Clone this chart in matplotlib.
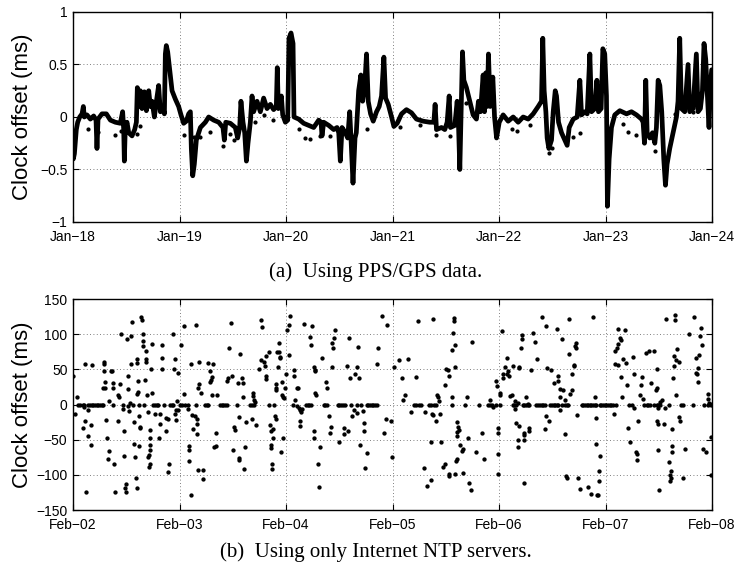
import matplotlib
matplotlib.use("Agg")
import matplotlib.pyplot as plt
import numpy as np

# ---------------- Panel (a): PPS/GPS offset trace (days since Jan-18, ms) ----------------
a_days = [0.000, 0.003, 0.013, 0.031, 0.044, 0.063, 0.085, 0.097, 0.106, 0.131, 0.163, 0.194,
          0.216, 0.225, 0.235, 0.272, 0.313, 0.351, 0.398, 0.444, 0.466, 0.476, 0.482, 0.491,
          0.507, 0.523, 0.554, 0.579, 0.595, 0.604, 0.613, 0.632, 0.648, 0.670, 0.689, 0.711,
          0.726, 0.742, 0.764, 0.783, 0.804, 0.820, 0.842, 0.858, 0.867, 0.876, 0.889, 0.908,
          0.930, 0.961, 0.992, 1.014, 1.039, 1.064, 1.086, 1.102, 1.111, 1.124, 1.139, 1.158,
          1.196, 1.243, 1.274, 1.321, 1.368, 1.408, 1.421, 1.434, 1.477, 1.524, 1.546, 1.565,
          1.577, 1.596, 1.612, 1.628, 1.643, 1.665, 1.681, 1.696, 1.728, 1.759, 1.790, 1.822,
          1.853, 1.884, 1.909, 1.918, 1.928, 1.956, 1.969, 1.994, 2.016, 2.028, 2.047, 2.066,
          2.075, 2.119, 2.166, 2.213, 2.260, 2.307, 2.329, 2.338, 2.354, 2.401, 2.448, 2.479,
          2.495, 2.510, 2.526, 2.557, 2.579, 2.598, 2.610, 2.629, 2.648, 2.660, 2.682,
          2.703, 2.719, 2.738, 2.756, 2.772, 2.794, 2.819, 2.850, 2.875, 2.897, 2.919, 2.935,
          2.960, 2.991, 3.013, 3.044, 3.085, 3.131, 3.178, 3.225, 3.288, 3.350, 3.388, 3.400,
          3.413, 3.460, 3.491, 3.513, 3.532, 3.544, 3.585, 3.607, 3.619, 3.632, 3.644, 3.657,
          3.670, 3.694, 3.726, 3.757, 3.788, 3.807, 3.826, 3.851, 3.864, 3.876, 3.889, 3.901,
          3.917, 3.942, 3.958, 3.977, 4.002, 4.039, 4.086, 4.133, 4.180, 4.227, 4.274, 4.321,
          4.368, 4.399, 4.411, 4.424, 4.440, 4.452, 4.468, 4.493, 4.509, 4.528, 4.540, 4.559,
          4.587, 4.618, 4.640, 4.659, 4.697, 4.734, 4.759, 4.775, 4.806, 4.828, 4.853, 4.869,
          4.900, 4.919, 4.934, 4.959, 4.975, 4.993, 5.009, 5.018, 5.034, 5.056, 5.087, 5.134,
          5.197, 5.244, 5.291, 5.338, 5.353, 5.366, 5.378, 5.391, 5.416, 5.441, 5.463, 5.478,
          5.494, 5.510, 5.528, 5.547, 5.563, 5.578, 5.603, 5.635, 5.666, 5.681, 5.697, 5.713,
          5.744, 5.775, 5.791, 5.822, 5.853, 5.869, 5.891, 5.910, 5.925, 5.941, 5.957, 5.972,
          5.985, 5.997]
a_offset = [-0.30, -0.40, -0.35, -0.12, -0.05, 0.00, 0.03, 0.10, 0.00, 0.02, -0.02, 0.01,
            -0.03, -0.30, -0.02, 0.03, 0.03, -0.03, -0.05, -0.06, 0.05, -0.12, -0.42, -0.10,
            -0.05, -0.15, -0.18, -0.12, -0.05, 0.28, 0.10, 0.25, 0.08, 0.24, 0.06, 0.25,
            0.10, 0.15, 0.00, 0.15, 0.30, 0.05, 0.10, 0.03, 0.60, 0.68, 0.62, 0.45,
            0.25, 0.17, 0.10, 0.02, -0.06, -0.04, 0.03, 0.05, -0.30, -0.56, -0.45, -0.22,
            -0.10, -0.05, 0.00, -0.03, -0.05, -0.10, -0.22, -0.05, -0.06, -0.10, -0.20, -0.10,
            0.15, -0.05, -0.15, -0.42, -0.25, -0.05, 0.20, 0.05, 0.15, 0.05, 0.18, 0.08,
            0.12, 0.07, 0.10, 0.47, 0.08, 0.20, 0.02, -0.05, -0.03, 0.75, 0.80, 0.70,
            0.00, -0.02, -0.06, -0.08, -0.10, -0.03, -0.05, -0.18, -0.05, -0.08, -0.12, -0.10,
            -0.15, -0.42, -0.10, -0.15, -0.20, 0.05, -0.20, -0.63, -0.20, -0.15, 0.25,
            0.40, 0.15, 0.28, 0.60, 0.15, 0.03, -0.04, 0.05, 0.10, 0.20, 0.57, 0.18,
            0.12, 0.00, -0.09, -0.06, 0.03, 0.07, 0.04, -0.02, -0.04, -0.05, -0.05, 0.12,
            -0.12, -0.10, -0.12, -0.05, 0.20, -0.10, -0.08, 0.15, -0.05, -0.50, 0.05, 0.62,
            0.35, 0.28, 0.15, 0.02, -0.02, 0.15, 0.05, 0.40, 0.05, 0.42, 0.10, 0.60,
            0.10, 0.38, 0.00, -0.20, -0.05, 0.02, -0.04, 0.00, -0.05, 0.00, -0.02, 0.03,
            0.10, 0.15, 0.75, 0.25, 0.05, -0.20, -0.30, -0.22, 0.05, 0.25, 0.20, -0.05,
            -0.15, -0.22, -0.27, -0.10, -0.02, 0.00, 0.35, 0.02, 0.05, 0.03, 0.60, 0.05,
            0.08, 0.35, 0.05, 0.08, 0.65, 0.60, 0.20, -0.85, -0.40, -0.10, 0.02, 0.06,
            0.03, 0.05, 0.02, -0.02, -0.05, -0.25, 0.35, -0.15, -0.20, -0.15, -0.25, -0.10,
            0.35, 0.30, 0.05, -0.40, -0.65, -0.45, -0.30, -0.15, 0.00, 0.15, 0.75, 0.08,
            0.05, 0.50, 0.05, 0.08, 0.60, 0.05, 0.08, 0.25, 0.70, 0.55, 0.20, -0.10,
            0.30, 0.45]

# scattered samples below the main trace
a_out_days = [0.138, 0.232, 0.398, 0.451, 0.632, 0.601, 1.039, 1.133, 1.196, 1.290, 1.408,
              1.477, 1.509, 1.712, 1.790, 1.878, 2.119, 2.175, 2.229, 2.322, 2.416, 2.541,
              2.757, 3.069, 3.257, 3.413, 3.539, 3.694, 4.118, 4.165, 4.289, 4.470, 4.493,
              4.697, 4.759, 5.166, 5.213, 5.291, 5.463, 5.651, 5.822]
a_out_offset = [-0.11, -0.14, -0.17, -0.13, -0.09, -0.16, -0.17, -0.19, -0.19, -0.14, -0.28,
                -0.16, -0.22, -0.05, 0.02, -0.03, -0.11, -0.20, -0.21, -0.18, -0.18, -0.14,
                -0.11, -0.10, -0.08, -0.17, -0.18, 0.13, -0.11, -0.13, -0.08, -0.34, -0.30,
                -0.19, -0.15, -0.07, -0.14, -0.17, -0.32, 0.03, 0.05]

a_ticklabels = ["Jan\u221218", "Jan\u221219", "Jan\u221220", "Jan\u221221",
                "Jan\u221222", "Jan\u221223", "Jan\u221224"]
a_yticks = [-1, -0.5, 0, 0.5, 1]
a_yticklabels = ["\u22121", "\u22120.5", "0", "0.5", "1"]

# ---------------- Panel (b): Internet NTP offsets (days since Feb-02, ms) ----------------
b_day1 = [(0.000, 40), (0.638, 125), (0.651, 120), (0.557, 118), (0.447, 100), (0.544, 97),
          (0.507, 93), (0.654, 100), (0.654, 91), (0.660, 83), (0.738, 86), (0.835, 84),
          (0.685, 76), (0.942, 100), (1.017, 85), (1.045, 111), (1.151, 113), (1.483, 116),
          (1.467, 80), (0.110, 58), (0.178, 56), (0.288, 60), (0.291, 58), (0.294, 48),
          (0.363, 48), (0.357, 47), (0.541, 58), (0.604, 64), (0.604, 59), (0.688, 65),
          (0.685, 61), (0.835, 66), (0.954, 65), (0.732, 51), (0.839, 50), (0.945, 50),
          (0.989, 45), (1.111, 57), (1.183, 61), (1.270, 59), (1.311, 58), (1.283, 47),
          (1.308, 39), (1.295, 35), (1.286, 32), (1.455, 38), (1.449, 34), (1.492, 40),
          (0.516, 41), (0.297, 32), (0.372, 31), (0.297, 24), (0.278, 23), (0.372, 23),
          (0.444, 29), (0.676, 35), (0.607, 33), (0.513, 22), (0.613, 18), (0.604, 15),
          (0.738, 17), (0.698, 13), (0.419, 13), (0.435, 10), (1.183, 29), (1.176, 23),
          (1.205, 16), (1.305, 14), (1.352, 13), (1.039, 15), (0.041, 11), (0.341, 5),
          (0.532, 2), (0.519, -2), (0.976, 5),
          (0.022, -14), (0.100, -3), (0.138, -8), (0.472, -7), (0.523, -9), (0.623, -16),
          (0.701, -11), (0.767, -14), (0.817, -14), (0.876, -19), (0.892, -21), (0.964, -8),
          (0.957, -13), (0.989, -8), (0.967, -22), (1.083, -7), (1.117, -15), (1.145, -17),
          (1.161, -21), (1.164, -28), (1.167, -42), (1.126, -35), (1.511, -32), (1.524, -36),
          (0.113, -23), (0.169, -29), (0.091, -34), (0.310, -22), (0.419, -23), (0.569, -25),
          (0.626, -32), (0.629, -34), (0.482, -37), (0.726, -36), (0.870, -38), (0.817, -27),
          (0.144, -45), (0.166, -58), (0.319, -48), (0.576, -56), (0.623, -59), (0.723, -47),
          (0.807, -48), (0.720, -58), (0.720, -64), (0.713, -72), (0.707, -74), (0.720, -84),
          (0.713, -89), (0.338, -66), (0.325, -77), (0.482, -73), (0.582, -75), (0.388, -84),
          (0.898, -84), (0.889, -96), (1.086, -59), (1.092, -65), (1.089, -80), (1.173, -93),
          (1.217, -93), (1.223, -106), (1.339, -59), (1.327, -60), (1.502, -65), (1.342, -41),
          (0.125, -125), (0.394, -125), (0.494, -124), (0.497, -113), (0.491, -118),
          (0.588, -105), (0.601, -119), (1.108, -128)]
b_day2 = [(1.768, 120), (1.774, 110), (2.040, 126), (2.031, 113), (2.006, 106), (2.165, 114),
          (2.247, 111), (2.221, 96), (2.237, 85), (2.463, 106), (2.453, 95), (2.431, 88),
          (2.441, 81), (2.594, 94), (2.678, 82), (2.901, 126), (2.944, 113), (2.863, 80),
          (1.937, 88), (1.915, 75), (1.937, 74), (1.943, 68), (1.946, 66), (1.840, 75),
          (1.815, 69), (1.762, 63), (1.793, 61), (1.799, 55), (1.746, 50), (1.571, 72),
          (1.921, 53), (2.024, 70), (2.003, 43), (2.071, 49), (2.074, 41), (2.340, 66),
          (2.265, 54), (2.275, 49), (2.275, 47), (2.431, 53), (2.572, 55), (2.663, 53),
          (2.647, 43), (2.603, 37), (2.685, 37), (2.857, 58), (3.010, 53), (1.809, 41),
          (1.812, 36), (1.906, 29), (1.909, 23), (1.902, 20), (1.965, 32), (1.990, 24),
          (1.583, 37), (1.545, 30), (1.596, 30), (2.100, 23), (2.109, 23), (2.375, 32),
          (2.384, 24), (2.275, 17), (2.284, 13), (1.686, 16), (1.693, 12), (1.696, 7),
          (1.708, 4), (1.599, 10), (1.962, 13), (1.974, 11), (1.984, 9), (2.087, 6),
          (2.100, -2), (2.118, -5), (2.134, -8), (2.143, -11), (2.153, -6), (2.406, -16),
          (2.616, -16), (2.641, -8), (2.669, -12), (2.719, -9),
          (1.561, -18), (1.624, -25), (1.677, -21), (1.721, -29), (1.896, -16), (1.902, -21),
          (1.849, -29), (1.874, -35), (1.862, -37), (2.128, -23), (2.134, -31), (2.265, -37),
          (2.262, -47), (2.318, -60), (2.409, -41), (2.419, -32), (2.547, -33), (2.540, -42),
          (2.581, -38), (2.497, -53), (2.694, -58), (2.728, -26), (2.735, -38), (2.760, -69),
          (2.935, -21), (2.985, -24), (2.922, -41), (2.994, -74), (1.874, -47), (1.971, -47),
          (1.862, -58), (1.858, -62), (1.952, -68), (1.615, -60), (1.561, -76), (1.555, -79),
          (1.605, -92), (1.871, -85), (1.868, -92), (2.300, -85), (2.741, -90), (2.309, -117)]
b_day3 = [(3.244, 119), (3.379, 121), (3.576, 123), (3.576, 119), (3.567, 101), (3.583, 85),
          (3.749, 89), (3.561, 77), (3.063, 63), (3.148, 65), (3.498, 51), (3.517, 49),
          (3.526, 41), (3.583, 53), (3.220, 39), (3.088, 38), (3.495, 28), (3.120, 13),
          (3.101, 7), (3.420, 13), (3.423, 11), (3.436, 5), (3.558, 11), (3.702, 11),
          (3.918, 7), (3.946, -4), (3.173, -10), (3.301, -10), (3.370, -14), (3.379, -15),
          (3.442, -14), (3.411, -24), (3.604, -25), (3.614, -32), (3.624, -36), (3.608, -39),
          (3.601, -45), (3.705, -48), (3.836, -40), (3.364, -54), (3.451, -54), (3.630, -57),
          (3.658, -63), (3.648, -66), (3.786, -68), (3.861, -77), (3.601, -78), (3.595, -81),
          (3.292, -90), (3.470, -89), (3.492, -85), (3.533, -99), (3.529, -102), (3.589, -99),
          (3.658, -97), (3.357, -108), (3.326, -116), (3.720, -111), (3.733, -121)]
b_day4 = [(4.027, 104), (4.217, 99), (4.214, 93), (4.211, 80), (4.321, 101), (4.337, 89),
          (4.402, 124), (4.443, 111), (4.359, 65), (4.074, 66), (4.055, 53), (4.080, 47),
          (4.077, 44), (4.039, 44), (4.033, 38), (4.096, 41), (4.133, 55), (4.189, 54),
          (4.192, 52), (4.305, 49), (4.446, 52), (4.487, 49), (4.515, 30), (3.974, 33),
          (3.983, 26), (4.008, 17), (4.014, 13), (4.099, 12), (4.124, 14), (4.149, 5),
          (4.152, -6), (4.183, 2), (4.255, 10), (4.268, 1), (4.443, -16), (4.471, -24),
          (4.434, -35), (4.161, -26), (4.192, -31), (4.239, -41), (4.236, -43), (4.283, -34),
          (4.283, -38), (4.233, -50), (4.180, -50), (4.174, -61), (3.992, -34), (3.992, -40),
          (3.992, -70), (3.986, -99), (4.233, -111),
          (4.547, 107), (4.596, 93), (4.656, 122), (4.884, 125), (4.719, 87), (4.719, 81),
          (4.712, 83), (4.659, 72), (4.700, 56), (4.706, 55), (4.684, 43), (4.556, 41),
          (4.553, 34), (4.574, 22), (4.603, 20), (4.681, 20), (4.671, 15), (4.571, 11),
          (4.615, 6), (4.577, -8), (4.734, -15), (4.909, -19), (4.900, 10), (4.618, -42),
          (4.912, -56), (4.944, -73), (4.940, -95), (4.940, -109), (4.625, -101), (4.634, -104),
          (4.746, -105), (4.756, -120), (4.840, -117), (4.862, -127), (4.922, -128),
          (4.934, -128)]
b_day5 = [(5.113, 108), (5.135, 94), (5.144, 92), (5.116, 86), (5.110, 80), (5.088, 76),
          (5.185, 106), (5.166, 65), (5.191, 59), (5.257, 68), (5.377, 73), (5.411, 76),
          (5.452, 76), (5.568, 122), (5.649, 127), (5.649, 120), (5.833, 125), (5.898, 109),
          (5.786, 100), (5.883, 97), (5.902, 84), (5.673, 79), (5.640, 69), (5.666, 63),
          (5.686, 60), (5.643, 55), (5.848, 66), (5.876, 70), (5.873, 52), (5.851, 45),
          (5.861, 44), (5.864, 32), (5.088, 57), (5.113, 56), (5.150, 39), (5.201, 28),
          (5.266, 43), (5.339, 39), (5.336, 28), (5.483, 50), (5.430, 30), (5.480, 24),
          (5.474, 20), (5.323, 13), (5.351, 8), (5.630, 37), (5.659, 13), (5.967, 15),
          (5.964, 8), (5.970, 2), (5.983, 1), (5.157, 10), (5.527, 7), (5.511, 4),
          (5.081, -14), (5.270, -5), (5.219, -1), (5.489, -5), (5.562, -5), (5.307, -23),
          (5.486, -23), (5.496, -28), (5.546, -27), (5.692, -18), (5.695, -23), (5.627, -35),
          (5.210, -34), (5.226, -54), (5.285, -68), (5.292, -70), (5.292, -79), (5.496, -65),
          (5.624, -59), (5.627, -67), (5.745, -63), (5.920, -63), (5.942, -68), (5.986, -46),
          (5.599, -82), (5.617, -94), (5.608, -100), (5.611, -104), (5.605, -109),
          (5.726, -104), (5.995, -100), (5.502, -122)]
# samples sitting exactly at 0 ms
b_zero_days = [0.050, 0.066, 0.091, 0.100, 0.144, 0.160, 0.175, 0.191, 0.207, 0.222, 0.238,
               0.254, 0.269, 0.285, 0.372, 0.472, 0.566, 0.620, 0.666, 0.754, 0.770, 0.785,
               0.801, 0.857, 0.911, 0.926, 0.936, 1.008, 1.020, 1.048, 1.076, 1.158, 1.239,
               1.255, 1.270, 1.380, 1.395, 1.411, 1.427, 1.442,
               1.536, 1.661, 1.680, 1.696, 1.843, 1.887, 2.068, 2.187, 2.203, 2.218, 2.234,
               2.353, 2.369, 2.387, 2.485, 2.500, 2.519, 2.538, 2.553, 2.606, 2.666, 2.703,
               2.757, 2.772, 2.788, 2.803, 2.819, 2.835, 2.850,
               3.204, 3.220, 3.251, 3.263, 3.345, 3.361, 3.389, 3.404, 3.554, 3.680, 3.814,
               3.899, 3.911, 3.930, 3.974, 4.008, 4.127, 4.143, 4.158, 4.221, 4.236, 4.252,
               4.268, 4.283, 4.352, 4.368, 4.384, 4.399, 4.415, 4.431, 4.477, 4.496, 4.515,
               4.525, 4.540, 4.556, 4.596, 4.615, 4.634, 4.650, 4.775, 4.791, 4.806, 4.822,
               4.837, 4.853, 4.868, 4.884, 4.900, 4.915, 4.947, 4.962, 4.978, 4.994, 5.009,
               5.025, 5.041, 5.056, 5.072, 5.103, 5.251, 5.364, 5.386, 5.402, 5.417, 5.458,
               5.480, 5.496, 5.511, 5.599, 5.711, 5.726, 5.817, 5.923, 5.967, 5.995]

b_ticklabels = ["Feb\u221202", "Feb\u221203", "Feb\u221204", "Feb\u221205",
                "Feb\u221206", "Feb\u221207", "Feb\u221208"]
b_yticks = [-150, -100, -50, 0, 50, 100, 150]
b_yticklabels = ["\u2212150", "\u2212100", "\u221250", "0", "50", "100", "150"]

ylabel_text = "Clock offset (ms)"
caption_a = "(a)  Using PPS/GPS data."
caption_b = "(b)  Using only Internet NTP servers."

# ---------------- drawing ----------------
plt.rcParams["font.family"] = ["Liberation Sans", "DejaVu Sans"]

fig = plt.figure(figsize=(7.36, 5.63), dpi=100)
ax_a = fig.add_axes([0.0992, 0.6057, 0.8682, 0.3730])
ax_b = fig.add_axes([0.0992, 0.0941, 0.8682, 0.3748])


def style_axes(ax, xlabels, yticks, ylabels, ylim):
    ax.set_xlim(0, 6)
    ax.set_ylim(*ylim)
    ax.set_xticks(range(7))
    ax.set_xticklabels(xlabels, fontsize=10)
    ax.set_yticks(yticks)
    ax.set_yticklabels(ylabels, fontsize=10)
    ax.tick_params(direction="in", top=True, right=True, length=4, width=0.8)
    ax.tick_params(axis="x", pad=6)
    ax.tick_params(axis="y", pad=4)
    ax.grid(True, linestyle=(0, (1, 3)), color="#555555", linewidth=0.6)
    for s in ax.spines.values():
        s.set_linewidth(1.0)
    ax.set_ylabel(ylabel_text, fontsize=16)
    ax.yaxis.set_label_coords(-0.062, 0.5)


style_axes(ax_a, a_ticklabels, a_yticks, a_yticklabels, (-1, 1))
ax_a.plot(a_days, a_offset, color="black", linewidth=3.4, solid_joinstyle="round",
          solid_capstyle="round", zorder=3)
ax_a.plot(a_out_days, a_out_offset, linestyle="none", marker="o", markersize=2.0,
          color="black", zorder=3)

style_axes(ax_b, b_ticklabels, b_yticks, b_yticklabels, (-150, 150))
all_pts = b_day1 + b_day2 + b_day3 + b_day4 + b_day5
bx = [p[0] for p in all_pts] + b_zero_days
by = [p[1] for p in all_pts] + [0] * len(b_zero_days)
ax_b.plot(bx, by, linestyle="none", marker="o", markersize=2.1, color="black", zorder=3)

fig.text(0.511, 1 - 272 / 563, caption_a, ha="center", va="center", fontsize=15,
         family=["Liberation Serif", "DejaVu Serif"])
fig.text(0.511, 1 - 552 / 563, caption_b, ha="center", va="center", fontsize=15,
         family=["Liberation Serif", "DejaVu Serif"])

fig.savefig("out.png", dpi=100)
